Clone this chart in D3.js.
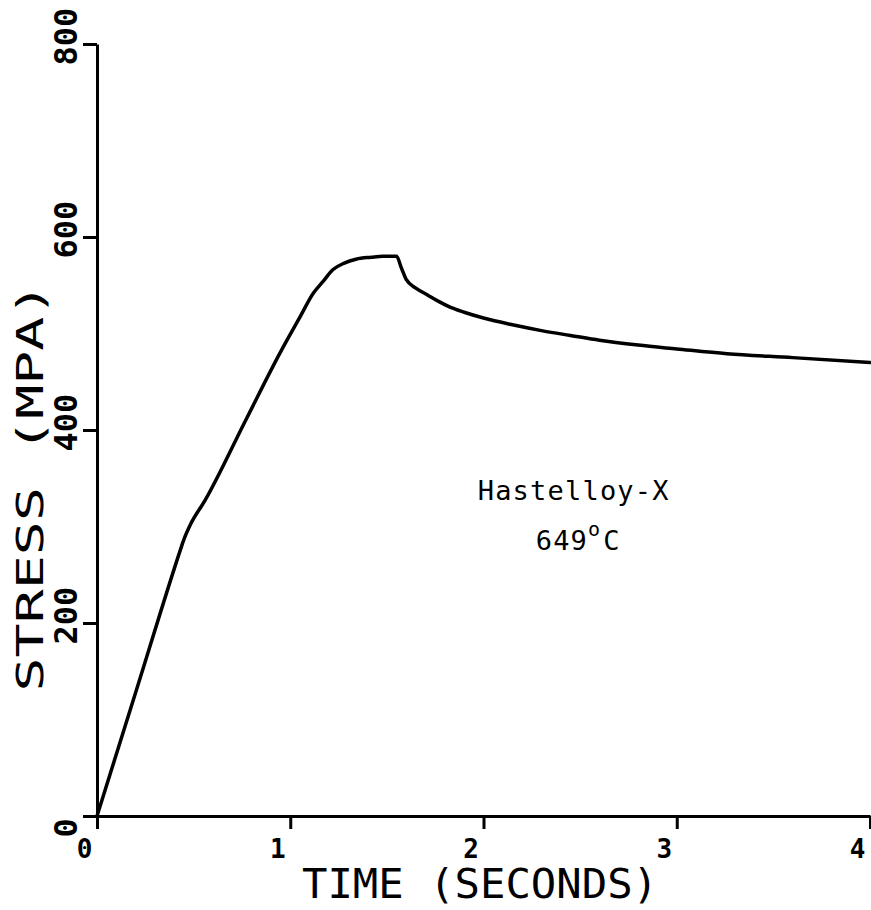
<!DOCTYPE html>
<html>
<head>
<meta charset="utf-8">
<script src="https://cdn.jsdelivr.net/npm/d3@7"></script>
<style>
  body { margin: 0; background: #fff; }
  svg { display: block; }
  .axis path, .axis line { stroke: #000; stroke-width: 3; }
  .axis text { fill: #000; font-family: "DejaVu Sans Mono", monospace; font-weight: bold; }
</style>
</head>
<body>
<svg id="chart" width="871" height="910"></svg>
<script>
// values
var timeSec   = [0, 0.2, 0.44, 0.445, 0.481, 0.559, 0.774, 0.95, 1.05, 1.12, 1.17, 1.22, 1.28, 1.34, 1.42, 1.48, 1.545, 1.55,
                 1.575, 1.60, 1.65, 1.71, 1.77, 1.83, 1.90, 2.0, 2.15, 2.3, 2.45, 2.6, 2.8, 3.0, 3.26, 3.6, 4.0];
var stressMPa = [0, 128, 281, 284, 301, 327, 412, 481, 517, 542, 554, 566, 573, 577, 579, 580, 580, 580,
                 568, 556, 547, 540, 533, 527, 522, 516, 509, 503, 498, 493, 488, 484, 479, 475, 470];

var xTicks = [0, 1, 2, 3, 4];
var yTicks = [0, 200, 400, 600, 800];

var xTitle = "TIME (SECONDS)";
var yTitle = "STRESS (MPA)";
var noteMaterial = "Hastelloy-X";
var noteTemp = "649";

var svg = d3.select("#chart");

var xScale = d3.scaleLinear().domain([0, 4]).range([97, 870]);
var yScale = d3.scaleLinear().domain([0, 800]).range([816, 44]);

// x axis
var xAxis = d3.axisBottom(xScale)
              .tickValues(xTicks)
              .tickSize(13)
              .tickSizeOuter(0)
              .tickFormat(d3.format("d"));

svg.append("g")
   .attr("class", "axis")
   .attr("transform", "translate(0," + yScale(0) + ")")
   .call(xAxis)
   .call(function(g) {
       g.selectAll(".tick text")
        .attr("text-anchor", "end")
        .attr("x", -5)
        .attr("y", 42)
        .attr("dy", null)
        .attr("font-size", 26);
   });

// y axis
var yAxis = d3.axisLeft(yScale)
              .tickValues(yTicks)
              .tickSize(14)
              .tickSizeOuter(0)
              .tickFormat(d3.format("d"));

svg.append("g")
   .attr("class", "axis")
   .attr("transform", "translate(" + xScale(0) + ",0)")
   .call(yAxis)
   .call(function(g) {
       g.selectAll(".tick text")
        .attr("x", null)
        .attr("dy", null)
        .attr("text-anchor", "start")
        .attr("transform", "translate(-20,21) rotate(-90)")
        .attr("font-size", 32);
   });

// curve
var points = timeSec.map(function(t, i) { return [t, stressMPa[i]]; });

var line = d3.line()
             .x(function(d) { return xScale(d[0]); })
             .y(function(d) { return yScale(d[1]); })
             .curve(d3.curveMonotoneX);

svg.append("path")
   .datum(points)
   .attr("d", line)
   .attr("fill", "none")
   .attr("stroke", "#000")
   .attr("stroke-width", 3.5)
   .attr("stroke-linejoin", "round")
   .attr("stroke-linecap", "round");

// axis titles
svg.append("text")
   .attr("x", 480)
   .attr("y", 898)
   .attr("text-anchor", "middle")
   .attr("font-family", "DejaVu Sans Mono, monospace")
   .attr("font-size", 40)
   .attr("textLength", 356)
   .attr("lengthAdjust", "spacingAndGlyphs")
   .text(xTitle);

svg.append("text")
   .attr("transform", "translate(43,487) rotate(-90)")
   .attr("text-anchor", "middle")
   .attr("font-family", "DejaVu Sans Mono, monospace")
   .attr("font-size", 38)
   .attr("textLength", 409)
   .attr("lengthAdjust", "spacingAndGlyphs")
   .text(yTitle);

// annotation
svg.append("text")
   .attr("x", xScale(1.97))
   .attr("y", yScale(327))
   .attr("font-family", "DejaVu Sans Mono, monospace")
   .attr("font-size", 27)
   .attr("letter-spacing", 1.2)
   .text(noteMaterial);

var temp = svg.append("text")
   .attr("x", xScale(2.27))
   .attr("y", yScale(276))
   .attr("font-family", "DejaVu Sans Mono, monospace")
   .attr("font-size", 27)
   .attr("letter-spacing", 1.2);

temp.append("tspan").text(noteTemp);
temp.append("tspan").attr("font-size", 20).attr("dy", -14).text("o");
temp.append("tspan").attr("dy", 14).attr("dx", 2).text("C");
</script>
</body>
</html>
